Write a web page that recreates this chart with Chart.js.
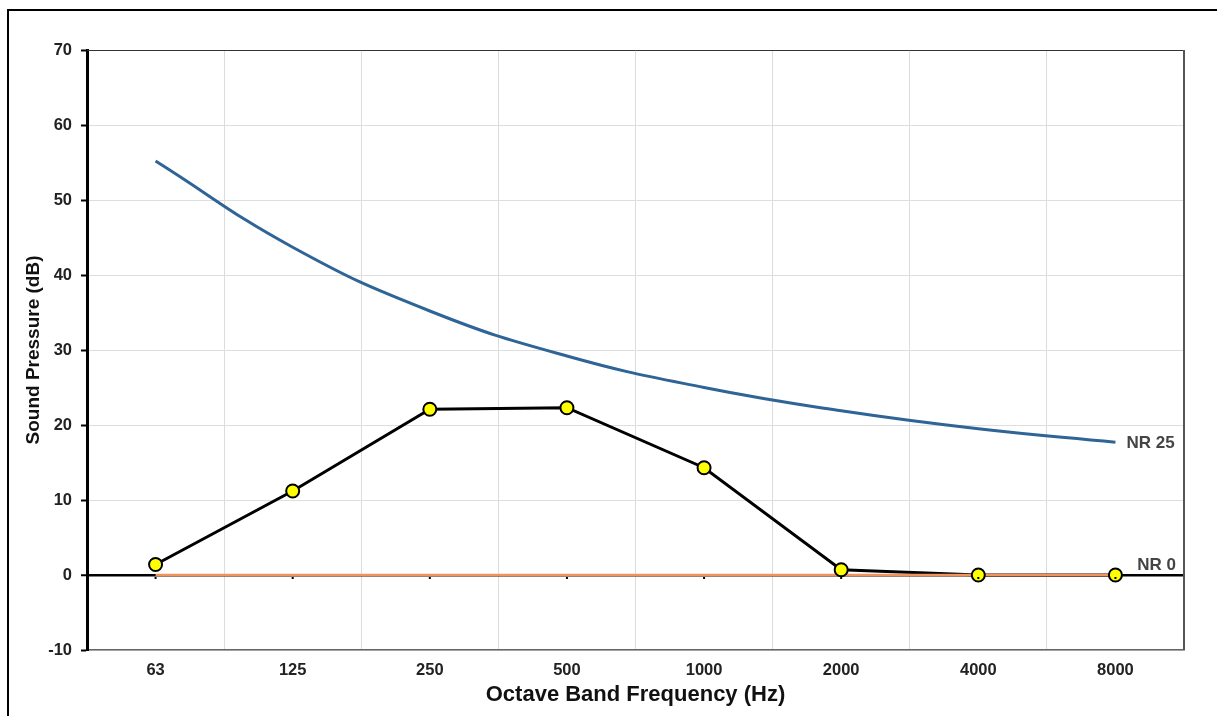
<!DOCTYPE html>
<html>
<head>
<meta charset="utf-8">
<script src="https://cdn.jsdelivr.net/npm/chart.js@4.4.1/dist/chart.umd.min.js"></script>
<style>
html,body{margin:0;padding:0;background:#fff;}
#wrap{position:relative;width:1217px;height:716px;overflow:hidden;}
#frame{position:absolute;left:7px;top:9px;width:1300px;height:800px;border-left:2px solid #000;border-top:2px solid #000;}
canvas{position:absolute;left:0;top:0;}
</style>
</head>
<body>
<div id="wrap"><div id="frame"></div><canvas id="c" width="1217" height="716"></canvas></div>
<script>
const categories = ['63','125','250','500','1000','2000','4000','8000'];
const nr25 = [55.2, 43.7, 35.2, 29.2, 25.0, 21.9, 19.5, 17.7];
const nr0 = [0, 0, 0, 0, 0, 0, 0, 0];
const measured = [1.4, 11.2, 22.1, 22.3, 14.3, 0.7, 0.0, 0.0];
const yTicks = [-10, 0, 10, 20, 30, 40, 50, 60, 70];

const FONT = '"Liberation Sans", Arial, sans-serif';

const extras = {
  id: 'extras',
  afterDatasetsDraw(chart) {
    const ctx = chart.ctx, a = chart.chartArea;
    const x = chart.scales.x, y = chart.scales.y;
    ctx.save();
    ctx.strokeStyle = '#333'; ctx.lineWidth = 1;
    ctx.beginPath(); ctx.moveTo(a.left, a.top + 0.5); ctx.lineTo(a.right, a.top + 0.5); ctx.stroke();
    ctx.strokeStyle = '#555'; ctx.lineWidth = 2;
    ctx.beginPath(); ctx.moveTo(a.right, a.top); ctx.lineTo(a.right, a.bottom); ctx.stroke();
    const y0 = y.getPixelForValue(0);
    ctx.fillStyle = '#000';
    categories.forEach((c, i) => {
      const px = x.getPixelForValue(i);
      ctx.fillRect(px - 1, y0 + 2, 2, 2);
    });
    ctx.font = 'bold 17px ' + FONT;
    ctx.fillStyle = '#444';
    ctx.textBaseline = 'middle';
    ctx.textAlign = 'left';
    const last = categories.length - 1;
    ctx.fillText('NR 25', x.getPixelForValue(last) + 11, y.getPixelForValue(nr25[last]) + 1);
    ctx.textAlign = 'right';
    ctx.fillText('NR 0', a.right - 8, y0 - 10);
    ctx.restore();
  }
};

new Chart(document.getElementById('c'), {
  type: 'line',
  data: {
    labels: categories,
    datasets: [
      { label: 'Measured', data: measured, borderColor: '#000', borderWidth: 3, pointRadius: 0, tension: 0, order: 3 },
      { label: 'NR 0', data: nr0, borderColor: '#f0955a', borderWidth: 2.5, pointRadius: 0, tension: 0, order: 2 },
      { label: 'NR 25', data: nr25, borderColor: '#2f6496', borderWidth: 3, pointRadius: 0, tension: 0.45, order: 1 },
      { label: 'Measured points', data: measured, showLine: false, pointRadius: 6.5, pointBackgroundColor: '#ffff00', pointBorderColor: '#000', pointBorderWidth: 2, order: 0 }
    ]
  },
  options: {
    responsive: false,
    animation: false,
    layout: { padding: { left: 0, top: 50, right: 33, bottom: 0 } },
    plugins: { legend: { display: false }, tooltip: { enabled: false } },
    scales: {
      x: {
        offset: true,
        grid: { offset: true, color: '#dcdcdc', lineWidth: 1, drawTicks: false },
        border: { color: '#666', width: 1.5 },
        ticks: { color: '#222', font: { family: FONT, size: 16.5, weight: 'bold' }, padding: 11, maxRotation: 0 },
        title: { display: true, text: 'Octave Band Frequency (Hz)', color: '#111', font: { family: FONT, size: 22, weight: 'bold' }, padding: { top: 0, bottom: 8 } },
        afterFit(s) { s.height = 66; }
      },
      y: {
        min: -10, max: 70,
        afterBuildTicks(s) { s.ticks = yTicks.map(v => ({ value: v })); },
        grid: {
          color: c => c.tick && c.tick.value === 0 ? '#000' : (c.tick && c.tick.value === 70 ? 'rgba(0,0,0,0)' : '#dedede'),
          lineWidth: c => c.tick && c.tick.value === 0 ? 2.5 : 1,
          tickColor: '#000', tickLength: 6, tickWidth: 2
        },
        border: { color: '#000', width: 3 },
        ticks: { color: '#222', font: { family: FONT, size: 16.5, weight: 'bold' }, padding: 9 },
        title: { display: true, text: 'Sound Pressure (dB)', color: '#111', font: { family: FONT, size: 19, weight: 'bold' }, padding: { top: 22, bottom: 0 } },
        afterFit(s) { s.width = 87; }
      }
    }
  },
  plugins: [extras]
});
</script>
</body>
</html>
